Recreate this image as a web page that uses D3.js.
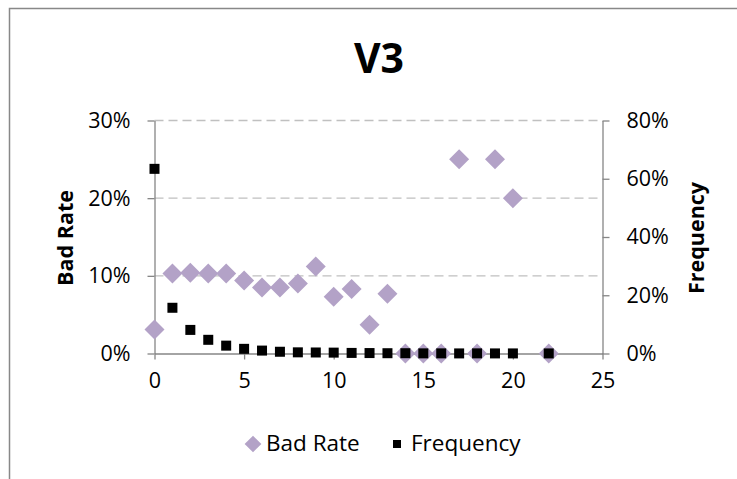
<!DOCTYPE html>
<html><head><meta charset="utf-8">
<script src="https://cdn.jsdelivr.net/npm/d3@7"></script>
<style>
body{margin:0;background:#fff;}
text{font-family:"Open Sans",Lato,sans-serif;}
</style></head>
<body><svg id="c" width="737" height="479"></svg>
<script>
const xValues   = [0,1,2,3,4,5,6,7,8,9,10,11,12,13,14,15,16,17,18,19,20,22];
const badRate   = [0.031,0.103,0.104,0.103,0.103,0.094,0.085,0.085,0.090,0.112,0.073,0.083,0.037,0.077,0,0,0,0.25,0,0.25,0.20,0];
const frequency = [0.634,0.157,0.081,0.047,0.027,0.016,0.010,0.006,0.004,0.0035,0.003,0.002,0.0015,0.001,0.001,0.0005,0.0005,0.0003,0.0005,0.0003,0.0003,0.0003];
const xTicks    = [0,5,10,15,20,25];
const leftTicks = [0,0.1,0.2,0.3];
const rightTicks= [0,0.2,0.4,0.6,0.8];
const title = "V3";

const svg = d3.select("#c");
const L=154.5, R=602.5, T=120.5, B=353.5;
const x = d3.scaleLinear().domain([0,25]).range([L,R]);
const yL = d3.scaleLinear().domain([0,0.3]).range([B,T]);
const yR = d3.scaleLinear().domain([0,0.8]).range([B,T]);
const pct = d3.format(".0%");
const axisCol="#868686";
const FONT = "'Open Sans',Lato,sans-serif";

// outer border
svg.append("path").attr("d","M9.5,479 V8.5 H737").attr("fill","none").attr("stroke","#888").attr("stroke-width",1.5);

// title
svg.append("text").attr("x",379).attr("y",73).attr("text-anchor","middle")
  .style("font-size","41px").style("font-weight","bold").text(title);

// gridlines
svg.append("g").selectAll("line").data(leftTicks.filter(d=>d>0)).join("line")
  .attr("x1",L).attr("x2",R).attr("y1",d=>yL(d)).attr("y2",d=>yL(d))
  .attr("stroke","#c0c0c0").attr("stroke-width",1.3).attr("stroke-dasharray","9,5");

function styleAxis(g){
  g.attr("font-family",FONT).attr("font-size",21.5);
  g.select(".domain").attr("stroke",axisCol).attr("stroke-width",1.3);
  g.selectAll(".tick line").attr("stroke",axisCol).attr("stroke-width",1.3);
  g.selectAll(".tick text").attr("fill","#000");
}
// x axis
svg.append("g").attr("transform",`translate(0,${B})`)
  .call(d3.axisBottom(x).tickValues(xTicks).tickSize(6).tickSizeOuter(0).tickPadding(13))
  .call(styleAxis);
// left axis
svg.append("g").attr("transform",`translate(${L},0)`)
  .call(d3.axisLeft(yL).tickValues(leftTicks).tickFormat(pct).tickSize(7).tickSizeOuter(0).tickPadding(17))
  .call(styleAxis);
// right axis
svg.append("g").attr("transform",`translate(${R},0)`)
  .call(d3.axisRight(yR).tickValues(rightTicks).tickFormat(pct).tickSize(7).tickSizeOuter(0).tickPadding(17))
  .call(styleAxis);

// axis titles
svg.append("text").attr("transform",`translate(73,238) rotate(-90)`).attr("text-anchor","middle")
  .style("font-size","21.5px").style("font-weight","bold").text("Bad Rate");
svg.append("text").attr("transform",`translate(704,238) rotate(-90)`).attr("text-anchor","middle")
  .style("font-size","21.5px").style("font-weight","bold").text("Frequency");

const pts = xValues.map((v,i)=>({x:v,b:badRate[i],f:frequency[i]}));
// bad rate diamonds
const diamond = d3.symbol().type(d3.symbolSquare).size(200)();
svg.append("g").selectAll("path").data(pts).join("path")
  .attr("d",diamond)
  .attr("transform",d=>`translate(${x(d.x)},${yL(d.b)}) rotate(45)`)
  .attr("fill","#b3a2c7");
// frequency squares
svg.append("g").selectAll("rect").data(pts).join("rect")
  .attr("x",d=>x(d.x)-5).attr("y",d=>yR(d.f)-5).attr("width",10).attr("height",10)
  .attr("fill","#000");

// legend
const lg = svg.append("g");
lg.append("path").attr("d",d3.symbol().type(d3.symbolSquare).size(140)())
  .attr("transform","translate(253,444) rotate(45)").attr("fill","#b3a2c7");
lg.append("text").attr("x",266).attr("y",451).style("font-size","22.5px").text("Bad Rate");
lg.append("rect").attr("x",393).attr("y",440).attr("width",8).attr("height",8).attr("fill","#000");
lg.append("text").attr("x",411).attr("y",451).style("font-size","22.5px").text("Frequency");
</script></body></html>
